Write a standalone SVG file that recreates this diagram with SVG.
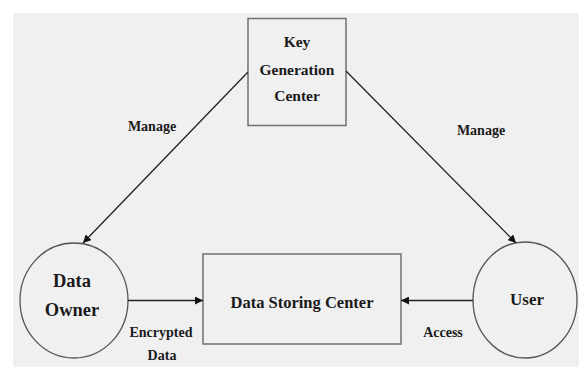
<svg xmlns="http://www.w3.org/2000/svg" width="579" height="367" viewBox="0 0 579 367">
<style>
text{font-family:"Liberation Serif","Times New Roman",serif;font-weight:bold;fill:#1a1a1a;text-anchor:middle}
.box{fill:none;stroke:#707070;stroke-width:1.5}
.circ{fill:none;stroke:#555;stroke-width:1.3}
.edge{stroke:#222;stroke-width:1.3;fill:none;marker-end:url(#ah)}
.lbl{font-size:14px}
</style>
<defs>
<marker id="ah" viewBox="0 0 10 10" refX="10" refY="5" markerWidth="8" markerHeight="8" markerUnits="userSpaceOnUse" orient="auto">
<path d="M0,0 L10,5 L0,10 z" fill="#111"/>
</marker>
</defs>
<rect width="579" height="367" fill="#fff"/>
<rect x="13" y="13" width="566" height="354" fill="#f0f0f0"/>
<g id="kgc">
<rect class="box" x="248" y="18.5" width="98" height="107"/>
<text x="297" y="47" font-size="15.5">Key</text>
<text x="297" y="75" font-size="15.5">Generation</text>
<text x="297" y="101" font-size="15.5">Center</text>
</g>
<g id="owner">
<ellipse class="circ" cx="74" cy="300.5" rx="54" ry="57.5"/>
<text x="72" y="287" font-size="18.5">Data</text>
<text x="72" y="316" font-size="18.5">Owner</text>
</g>
<g id="storage">
<rect class="box" x="203" y="254" width="198" height="90"/>
<text x="302" y="307.5" font-size="16.5">Data Storing Center</text>
</g>
<g id="user">
<ellipse class="circ" cx="525" cy="300" rx="52" ry="58"/>
<text x="527" y="305" font-size="17">User</text>
</g>
<g id="connectors">
<line class="edge" x1="248" y1="72" x2="83" y2="243"/>
<line class="edge" x1="346" y1="71" x2="516" y2="243"/>
<line class="edge" x1="128" y1="300.5" x2="203" y2="300.5"/>
<line class="edge" x1="473" y1="300.5" x2="401" y2="300.5"/>
<text class="lbl" x="152" y="131">Manage</text>
<text class="lbl" x="481" y="135">Manage</text>
<text class="lbl" x="161" y="337">Encrypted</text>
<text class="lbl" x="162" y="360">Data</text>
<text class="lbl" x="443" y="337">Access</text>
</g>
</svg>
